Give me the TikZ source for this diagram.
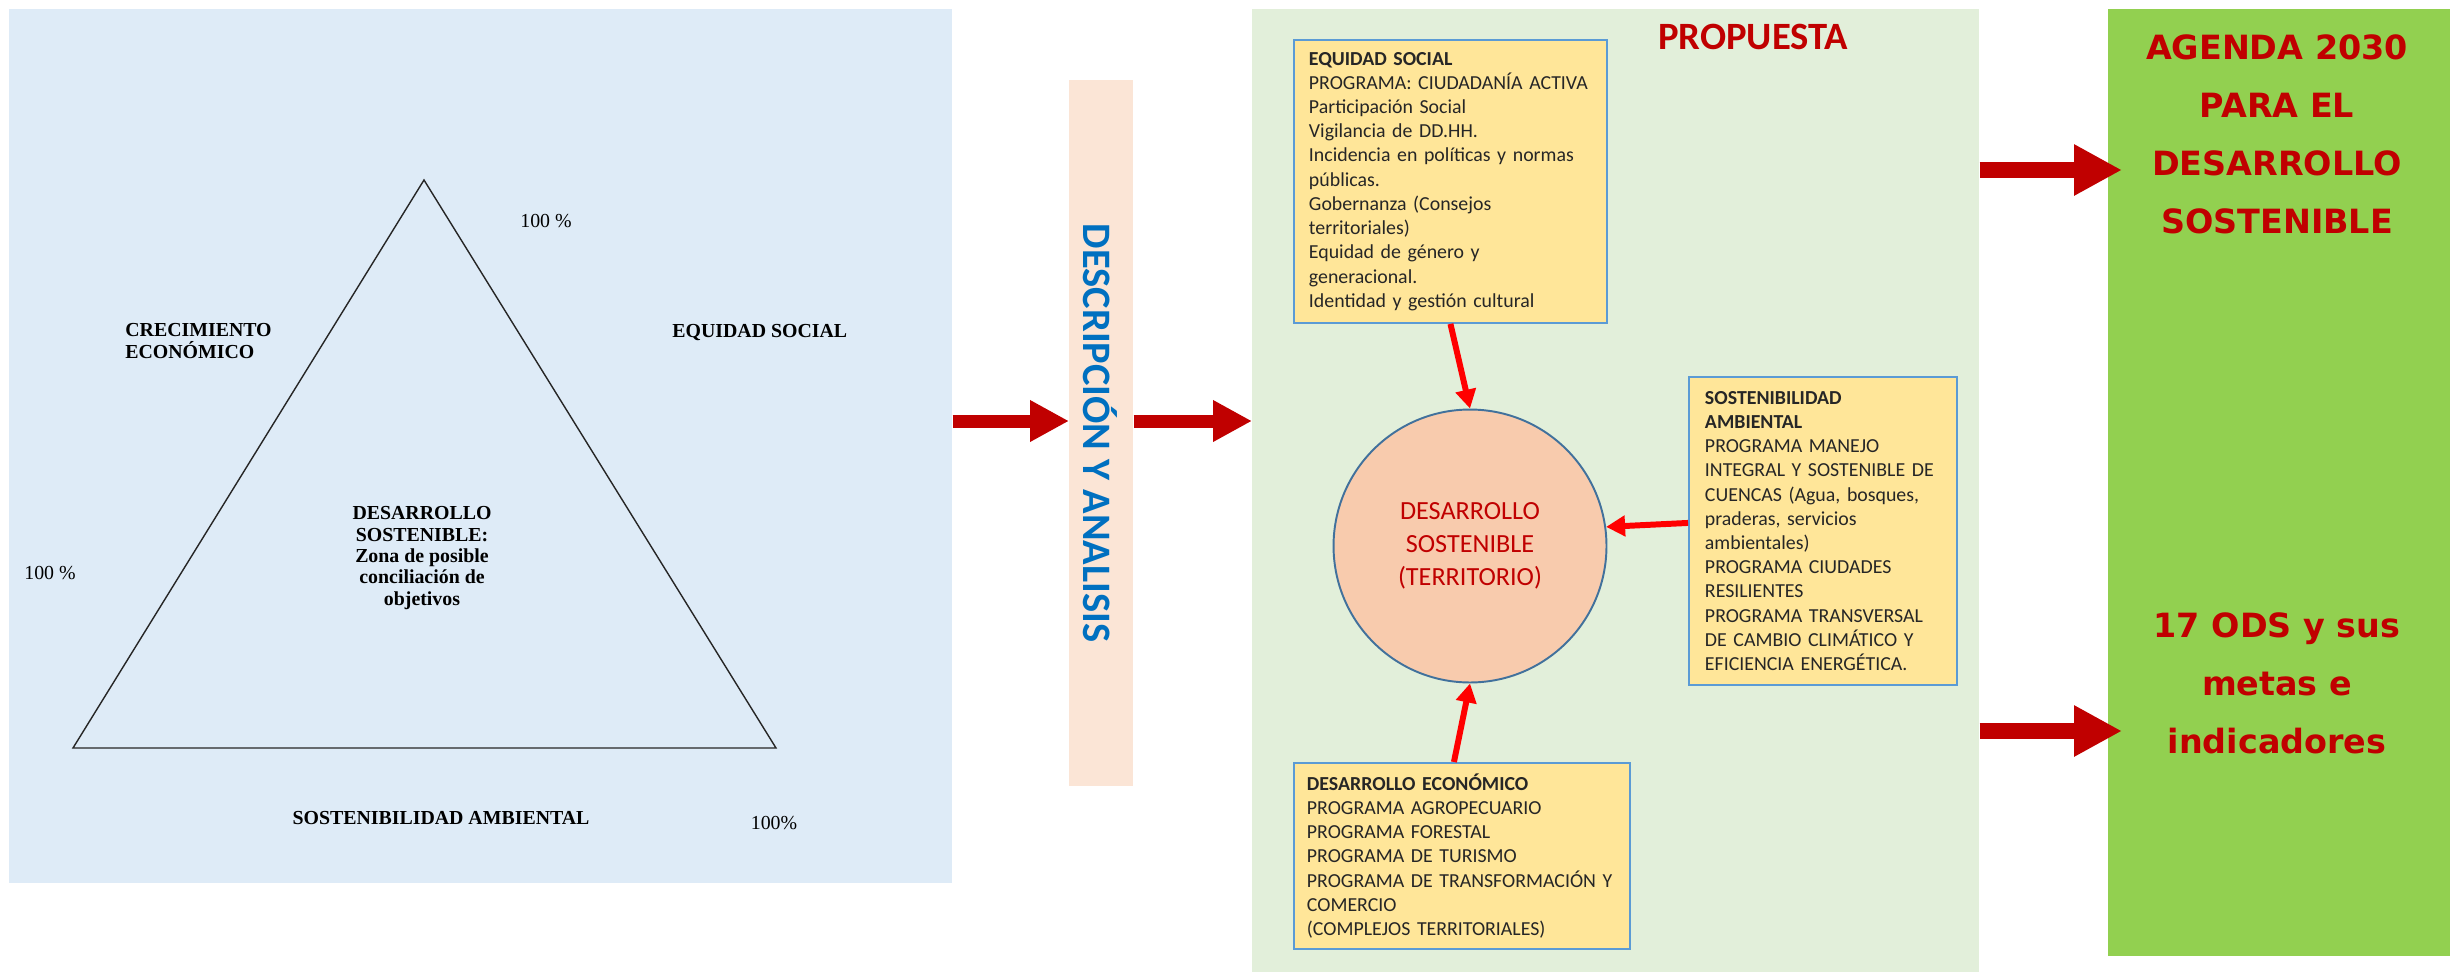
\documentclass[tikz,border=0pt]{standalone}
\usepackage{fontspec}
\setmainfont{Liberation Serif}
\newfontfamily\calibri{Carlito}
\newfontfamily\dejavu{DejaVu Sans}
\usepackage{tikz}
\usetikzlibrary{arrows.meta}

\definecolor{paneblue}{HTML}{DEEBF7}
\definecolor{panegreen}{HTML}{E2EFDA}
\definecolor{agendagreen}{HTML}{92D050}
\definecolor{bandpeach}{HTML}{FBE5D6}
\definecolor{boxfill}{HTML}{FFE699}
\definecolor{boxline}{HTML}{5B9BD5}
\definecolor{circfill}{HTML}{F8CBAD}
\definecolor{circline}{HTML}{41719C}
\definecolor{darkred}{HTML}{C00000}
\definecolor{linkred}{HTML}{FF0000}
\definecolor{bandblue}{HTML}{0070C0}

\begin{document}
\begin{tikzpicture}[x=0.02cm, y=-0.02cm,
    panel/.style={draw=none, inner sep=0pt, anchor=north west},
    tlabel/.style={font=\fontsize{11.3}{12.2}\selectfont\bfseries, inner sep=0pt},
    pct/.style={font=\fontsize{11.3}{12.2}\selectfont, inner sep=0pt},
    progbox/.style={draw=boxline, line width=1.1pt, fill=boxfill, anchor=north west, align=left,
        inner ysep=0pt, text=black!85, font=\calibri\fontsize{11.3}{13.8}\selectfont},
    link/.style={draw=linkred, line width=3.4pt, -{Triangle[length=10.8pt,width=11.4pt]}},
    bigarrow/.style={draw=darkred, line width=7.4pt, -{Triangle[length=22.2pt,width=22.2pt]}},
    bigarrowr/.style={draw=darkred, line width=9.1pt, -{Triangle[length=27.3pt,width=27.3pt]}},
    agendatext/.style={text=darkred, align=center, font=\dejavu\bfseries\fontsize{19}{33}\selectfont},
]
\useasboundingbox (0,0) rectangle (2450,974);

% left panel
\node[panel, fill=paneblue, minimum width=18.86cm, minimum height=17.48cm] (marco) at (9,9) {};
\draw[line width=0.8pt, black!85] (424,180) -- (73,748) -- (776,748) -- cycle;
\node[tlabel, anchor=west, align=left] (crec) at (125,341) {CRECIMIENTO\\ECONÓMICO};
\node[tlabel, anchor=west] (equi) at (672,333) {EQUIDAD SOCIAL};
\node[tlabel, align=center] (zona) at (422,558) {DESARROLLO\\SOSTENIBLE:\\Zona de posible\\conciliación de\\objetivos};
\node[tlabel] (sost) at (441,818) {SOSTENIBILIDAD AMBIENTAL};
\node[pct] (pa) at (546,221) {100 \%};
\node[pct] (pb) at (50,573) {100 \%};
\node[pct] (pc) at (774,823) {100\%};

% band
\node[panel, fill=bandpeach, minimum width=1.28cm, minimum height=14.12cm] (da) at (1069,80) {};
\node[rotate=-90, text=bandblue, font=\calibri\bfseries\fontsize{23}{26}\selectfont] (datext) at (1100,433) {DESCRIPCIÓN Y ANALISIS};

% propuesta panel
\node[panel, fill=panegreen, minimum width=14.54cm, minimum height=19.26cm] (prop) at (1252,9) {};
\node[text=darkred, font=\calibri\bfseries\fontsize{22}{24}\selectfont] (ptitle) at (1753,37) {PROPUESTA};

\node[progbox, inner xsep=0.3cm, text width=5.66cm, minimum height=5.66cm] (es) at (1293,39) {%
\textbf{EQUIDAD SOCIAL}\\
PROGRAMA: CIUDADANÍA ACTIVA\\
Participación Social\\
Vigilancia de DD.HH.\\
Incidencia en políticas y normas\\
públicas.\\
Gobernanza (Consejos\\
territoriales)\\
Equidad de género y\\
generacional.\\
Identidad y gestión cultural};

\node[progbox, inner xsep=0.32cm, text width=4.72cm, minimum height=6.16cm] (sa) at (1688,376) {%
\textbf{SOSTENIBILIDAD}\\
\textbf{AMBIENTAL}\\
PROGRAMA MANEJO\\
INTEGRAL Y SOSTENIBLE DE\\
CUENCAS (Agua, bosques,\\
praderas, servicios\\
ambientales)\\
PROGRAMA CIUDADES\\
RESILIENTES\\
PROGRAMA TRANSVERSAL\\
DE CAMBIO CLIMÁTICO Y\\
EFICIENCIA ENERGÉTICA.};

\node[progbox, inner xsep=0.26cm, text width=6.2cm, minimum height=3.72cm] (de) at (1293,762) {%
\textbf{DESARROLLO ECONÓMICO}\\
PROGRAMA AGROPECUARIO\\
PROGRAMA FORESTAL\\
PROGRAMA DE TURISMO\\
PROGRAMA DE TRANSFORMACIÓN Y\\
COMERCIO\\
(COMPLEJOS TERRITORIALES)};

\node[circle, draw=circline, line width=1.1pt, fill=circfill, minimum size=5.46cm, inner sep=0pt,
    align=center, text=darkred, font=\calibri\fontsize{14.9}{18.8}\selectfont] (circ) at (1470,546)
    {DESARROLLO\\SOSTENIBLE\\(TERRITORIO)};

\draw[link] (es.south) -- (circ.north);
\draw[link] ([yshift=0.16cm]sa.west) -- (circ.8);
\draw[link] ([xshift=-0.16cm]de.north) -- (circ.south);

% agenda panel
\node[panel, fill=agendagreen, minimum width=6.84cm, minimum height=18.94cm] (agenda) at (2108,9) {};
\node[agendatext] (ag1) at (2277,134) {AGENDA 2030\\PARA EL\\DESARROLLO\\SOSTENIBLE};
\node[agendatext] (ag2) at (2277,683) {17 ODS y sus\\metas e\\indicadores};

% flechas
\coordinate (lvl) at (0,421);
\coordinate (up) at (0,170);
\coordinate (down) at (0,731);
\draw[bigarrow] (marco.east |- lvl) -- (da.west |- lvl);
\draw[bigarrow] (da.east |- lvl) -- (prop.west |- lvl);
\draw[bigarrowr, shorten >=-0.28cm] (prop.east |- up) -- (agenda.west |- up);
\draw[bigarrowr, shorten >=-0.28cm] (prop.east |- down) -- (agenda.west |- down);

\end{tikzpicture}
\end{document}
